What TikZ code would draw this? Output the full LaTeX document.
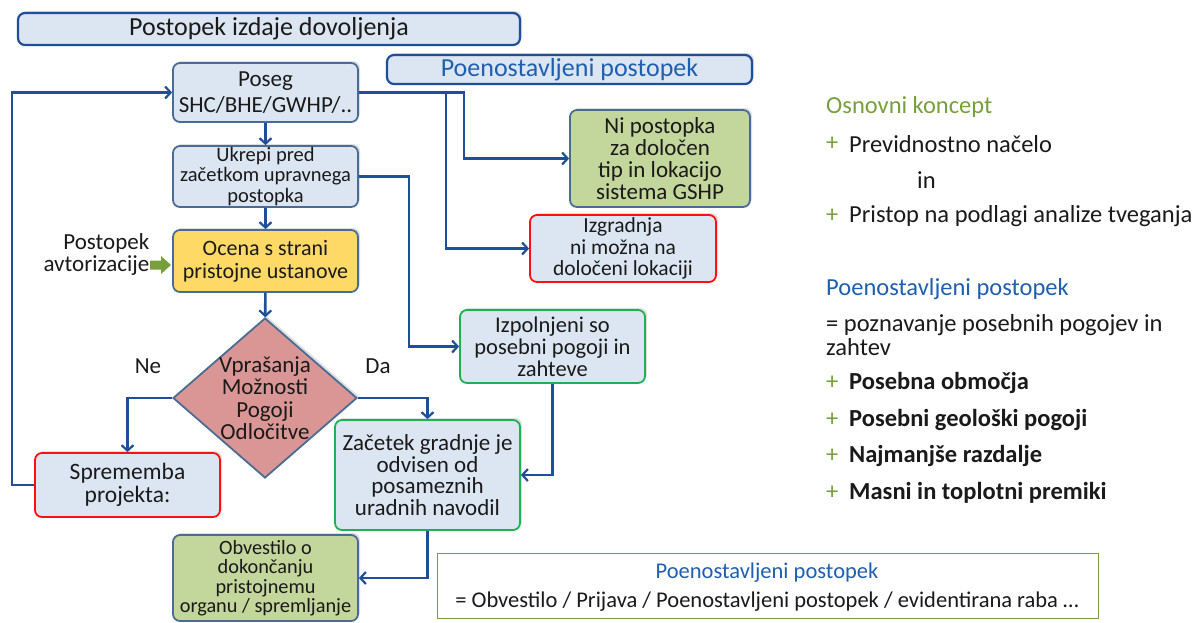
\documentclass[tikz,border=0pt]{standalone}
\usepackage{fontspec}
\setmainfont{Carlito}
\usetikzlibrary{arrows.meta,shapes.geometric,shadows}
\definecolor{boxfill}{HTML}{DCE6F2}
\definecolor{boxline}{HTML}{4A6C94}
\definecolor{arrblue}{HTML}{1F4E9B}
\definecolor{redline}{HTML}{FF1010}
\definecolor{greenline}{HTML}{1DB150}
\definecolor{yelfill}{HTML}{FFD966}
\definecolor{grnfill}{HTML}{C3D69B}
\definecolor{diafill}{HTML}{D99694}
\definecolor{olive}{HTML}{77A03C}
\definecolor{txtblue}{HTML}{1F5FAF}
\definecolor{txt}{HTML}{1A1A1A}
\newcommand{\fs}[2]{\fontsize{#1}{#2}\selectfont}
\tikzset{
  bx/.style={draw=boxline, line width=1.8pt, fill=boxfill, rounded corners=7pt, align=center, inner sep=0pt, text=txt,
    drop shadow={shadow xshift=2pt, shadow yshift=2pt, opacity=0.25}},
  arr/.style={draw=arrblue, line width=2.7pt, -{Straight Barb[length=5.5pt,width=12pt,line width=2.2pt]}},
  rtext/.style={anchor=west, inner sep=0pt, text=txt, font=\fs{24.5}{22}},
  plus/.style={anchor=west, inner sep=0pt, text=olive, font=\fs{24.5}{22}},
  lbl/.style={inner sep=0pt, text=txt, font=\fs{23}{23}},
}
\begin{document}
\begin{tikzpicture}[x=1pt,y=-1pt]
\useasboundingbox (0,0) rectangle (1193,622);
\fill[white] (0,0) rectangle (1193,622);
% titles
\node[bx, draw=arrblue, line width=2.2pt, minimum width=502, minimum height=32, font=\fs{26}{28}] (title) at (269,29) {Postopek izdaje dovoljenja};
\node[bx, draw=arrblue, line width=2.2pt, minimum width=365, minimum height=29, text=txtblue, font=\fs{26}{28}] (pp) at (569.5,69.5) {Poenostavljeni postopek};
% flow boxes
\node[bx, minimum width=185, minimum height=59, font=\fs{23}{26}] (poseg) at (265.5,92.5) {Poseg\\SHC/BHE/GWHP/..};
\node[bx, minimum width=185, minimum height=61, font=\fs{20.5}{20.5}] (ukrepi) at (265.5,176.5) {Ukrepi pred\\začetkom upravnega\\postopka};
\node[bx, fill=yelfill, minimum width=185, minimum height=62, font=\fs{22}{23}] (ocena) at (265.5,261) {Ocena s strani\\pristojne ustanove};
\node[draw=boxline, line width=1.8pt, fill=diafill, diamond, minimum width=184, minimum height=160, inner sep=0pt,
  drop shadow={shadow xshift=2pt, shadow yshift=2pt, opacity=0.25}] (dec) at (265,398) {};
\node[align=center, inner sep=0pt, text=txt, font=\fs{23}{22.5}] (dectext) at (dec.center) {Vprašanja\\Možnosti\\Pogoji\\Odločitve};
\node[bx, draw=redline, minimum width=185, minimum height=64, font=\fs{23.5}{23}] (spr) at (127.5,485) {Sprememba\\projekta:};
\node[bx, draw=greenline, minimum width=185, minimum height=110, font=\fs{23}{21.8}] (zac) at (427.5,475) {Začetek gradnje je\\odvisen od\\posameznih\\uradnih navodil};
\node[bx, draw=greenline, minimum width=185, minimum height=73, font=\fs{22.5}{22}] (izp) at (552.5,346.5) {Izpolnjeni so\\posebni pogoji in\\zahteve};
\node[bx, fill=grnfill, minimum width=180, minimum height=97, font=\fs{23}{22}] (ni) at (660,158.5) {Ni postopka\\za določen\\tip in lokacijo\\sistema GSHP};
\node[bx, draw=redline, minimum width=186, minimum height=67, font=\fs{21.5}{21.5}] (izg) at (623,248.5) {Izgradnja\\ni možna na\\določeni lokaciji};
\node[bx, fill=grnfill, minimum width=185, minimum height=86, font=\fs{20.3}{19.5}] (obv) at (265.5,578) {Obvestilo o\\dokončanju\\pristojnemu\\organu / spremljanje};
% bottom box
\node[draw=olive, line width=1pt, fill=white, minimum width=661, minimum height=65] (bot) at (767.5,585.5) {};
\node[inner sep=0pt, text=txtblue, font=\fs{22.5}{22}] (bot1) at (767,573) {Poenostavljeni postopek};
\node[inner sep=0pt, text=txt, font=\fs{22.5}{22}] (bot2) at (767,602) {= Obvestilo / Prijava / Poenostavljeni postopek / evidentirana raba …};
% authorisation
\fill[olive] (150,260.5) -- (161,260.5) -- (161,256) -- (171,265) -- (161,274) -- (161,269.5) -- (150,269.5) -- cycle;
\node[align=right, anchor=east, inner sep=0pt, text=txt, font=\fs{23}{22}] (auth) at (149.5,254) {Postopek\\avtorizacije};
% labels
\node[lbl] (ne) at (148,366) {Ne};
\node[lbl] (da) at (378,366) {Da};
% connectors
\draw[arr] (poseg) -- (ukrepi);
\draw[arr] (ukrepi) -- (ocena);
\draw[arr] (ocena) -- (dec);
\draw[arr] (spr.west) -- ++(-22,0) |- (poseg.west);
\draw[arr] (poseg.east) -- ++(105,0) |- (ni.west);
\draw[arr] (poseg.east) -- ++(87,0) |- (izg.west);
\draw[arr] (ukrepi.east) -- ++(50,0) |- (izp.west);
\draw[arr] (dec.west) -| (spr.north);
\draw[arr] (dec.east) -| (zac.north);
\draw[arr] (izp.south) |- (zac.east);
\draw[arr] (zac.south) |- (obv.east);
% right column
\node[anchor=west, inner sep=0pt, text=olive, font=\fs{24.5}{22}] (ok) at (826,107) {Osnovni koncept};
\node[plus] (p1) at (826,144) {+};
\node[rtext] (t1) at (849,144) {Previdnostno načelo};
\node[rtext] (tin) at (917,180) {in};
\node[plus] (p2) at (826,216) {+};
\node[rtext] (t2) at (849,216) {Pristop na podlagi analize tveganja};
\node[anchor=west, inner sep=0pt, text=txtblue, font=\fs{24.5}{22}] (pp2) at (826,289) {Poenostavljeni postopek};
\node[rtext] (eq1) at (826,325) {= poznavanje posebnih pogojev in};
\node[rtext] (eq2) at (826,347) {zahtev};
\node[plus] (p3) at (826,383) {+};
\node[rtext, font=\bfseries\fs{24.5}{22}] (b1) at (849,383) {Posebna območja};
\node[plus] (p4) at (826,420) {+};
\node[rtext, font=\bfseries\fs{24.5}{22}] (b2) at (849,420) {Posebni geološki pogoji};
\node[plus] (p5) at (826,456) {+};
\node[rtext, font=\bfseries\fs{24.5}{22}] (b3) at (849,456) {Najmanjše razdalje};
\node[plus] (p6) at (826,493) {+};
\node[rtext, font=\bfseries\fs{24.5}{22}] (b4) at (849,493) {Masni in toplotni premiki};
\end{tikzpicture}
\end{document}
